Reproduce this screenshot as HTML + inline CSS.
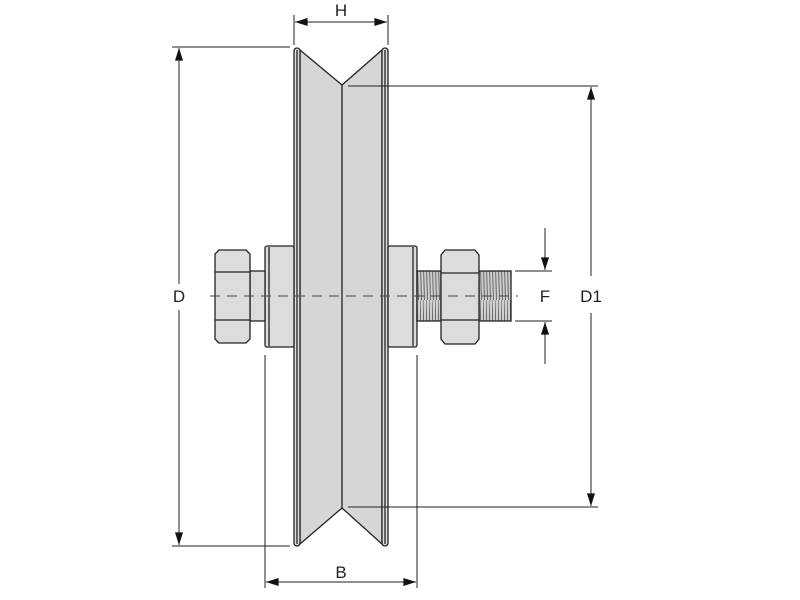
<!DOCTYPE html>
<html><head><style>body{margin:0;background:#fff}svg{display:block}</style></head><body>
<svg width="800" height="600" viewBox="0 0 800 600" xmlns="http://www.w3.org/2000/svg">
<defs>
<pattern id="th" width="3" height="50" patternUnits="userSpaceOnUse">
<rect width="3" height="50" fill="#cfcfcf"/>
<line x1="0" y1="0" x2="1.5" y2="50" stroke="#666" stroke-width="1"/>
</pattern>
<marker id="a" viewBox="0 0 14 10" refX="14" refY="5" markerWidth="14" markerHeight="9" markerUnits="userSpaceOnUse" orient="auto-start-reverse"><path d="M0,0.5 L14,5 L0,9.5 z" fill="#111"/></marker>
</defs>
<g stroke="#222" stroke-width="1.3" fill="#dcdcdc">
<!-- wheel body -->
<path d="M300,50 L342,85 L382,50 L382,544 L342,508 L300,544 Z" fill="#d6d6d6"/>
<rect x="294" y="48" width="6" height="498" rx="3"/>
<rect x="382" y="48" width="6" height="498" rx="3"/>
<line x1="297" y1="50" x2="297" y2="544"/>
<line x1="385" y1="50" x2="385" y2="544"/>
<line x1="342" y1="85" x2="342" y2="508"/>
<!-- hubs -->
<rect x="265" y="246" width="29" height="101" rx="2"/>
<line x1="269" y1="247" x2="269" y2="346"/>
<rect x="388" y="246" width="29" height="101" rx="2"/>
<line x1="413" y1="247" x2="413" y2="346"/>
<!-- left bolt -->
<rect x="250" y="271" width="15" height="50"/>
<path d="M219,250 L246,250 L250,254 L250,339 L246,343 L219,343 L215,339 L215,254 Z"/>
<path d="M215,272 L250,272 M215,320 L250,320" fill="none"/>
<!-- threads -->
<rect x="417" y="271" width="24" height="50" fill="url(#th)"/>
<rect x="479" y="271" width="32" height="50" fill="url(#th)"/>
<path d="M445,250 L475,250 L479,255 L479,339 L475,344 L445,344 L441,339 L441,255 Z"/>
<path d="M441,273 L479,273 M441,320 L479,320" fill="none"/>
</g>
<!-- center line -->
<line x1="210" y1="296" x2="518" y2="296" stroke="#444" stroke-width="1" stroke-dasharray="10,7"/>
<g stroke="#222" stroke-width="1" fill="none">
<!-- H -->
<line x1="294" y1="15" x2="294" y2="45"/><line x1="388" y1="15" x2="388" y2="45"/>
<line x1="295" y1="22" x2="387" y2="22" marker-start="url(#a)" marker-end="url(#a)"/>
<!-- D -->
<line x1="172" y1="47" x2="290" y2="47"/><line x1="172" y1="546" x2="290" y2="546"/>
<line x1="179" y1="48" x2="179" y2="284" marker-start="url(#a)"/>
<line x1="179" y1="310" x2="179" y2="545" marker-end="url(#a)"/>
<!-- D1 -->
<line x1="348" y1="86" x2="598" y2="86"/><line x1="348" y1="507" x2="598" y2="507"/>
<line x1="591" y1="87" x2="591" y2="276" marker-start="url(#a)"/>
<line x1="591" y1="313" x2="591" y2="506" marker-end="url(#a)"/>
<!-- F -->
<line x1="515" y1="271" x2="552" y2="271"/><line x1="515" y1="321" x2="552" y2="321"/>
<line x1="545" y1="228" x2="545" y2="270" marker-end="url(#a)"/>
<line x1="545" y1="364" x2="545" y2="322" marker-end="url(#a)"/>
<!-- B -->
<line x1="265" y1="355" x2="265" y2="588"/><line x1="417" y1="355" x2="417" y2="588"/>
<line x1="266" y1="582" x2="416" y2="582" marker-start="url(#a)" marker-end="url(#a)"/>
</g>
<g font-family="Liberation Sans, sans-serif" font-size="17" fill="#222" text-anchor="middle">
<text x="341" y="16">H</text>
<text x="179" y="302">D</text>
<text x="591" y="302">D1</text>
<text x="545" y="302">F</text>
<text x="341" y="578">B</text>
</g>
</svg>
</body></html>
